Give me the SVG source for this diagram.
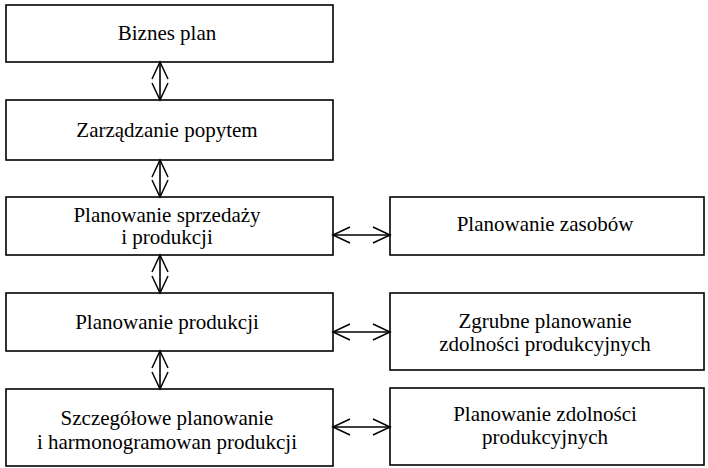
<svg xmlns="http://www.w3.org/2000/svg" width="708" height="468" viewBox="0 0 708 468">
<defs>
<marker id="ah" viewBox="0 0 20 20" refX="18" refY="10" markerWidth="20" markerHeight="20" markerUnits="userSpaceOnUse" orient="auto-start-reverse">
<path d="M1,2 L18,10 L1,18" fill="none" stroke="#000" stroke-width="1.5"/>
</marker>
<style>
.box{fill:#fff;stroke:#000;stroke-width:1.6}
.t{font-family:'Liberation Serif','Times New Roman',serif;font-size:21px;fill:#000;text-anchor:middle}
.c{stroke:#000;stroke-width:1.6;fill:none;marker-start:url(#ah);marker-end:url(#ah)}
</style>
</defs>
<rect width="708" height="468" fill="#fff"/>
<g id="biznes-plan"><rect class="box" x="6" y="5" width="327" height="57"/><text class="t" x="167" y="40">Biznes plan</text></g>
<g id="zarzadzanie-popytem"><rect class="box" x="6" y="100" width="327" height="60"/><text class="t" x="167" y="137">Zarządzanie popytem</text></g>
<g id="planowanie-sprzedazy"><rect class="box" x="6" y="197" width="327" height="58"/><text class="t" x="167" y="222">Planowanie sprzedaży</text><text class="t" x="167" y="244">i produkcji</text></g>
<g id="planowanie-produkcji"><rect class="box" x="6" y="293" width="327" height="58"/><text class="t" x="167" y="329">Planowanie produkcji</text></g>
<g id="szczegolowe"><rect class="box" x="6" y="389" width="327" height="77"/><text class="t" x="167" y="425">Szczegółowe planowanie</text><text class="t" x="167" y="449">i harmonogramowan produkcji</text></g>
<g id="planowanie-zasobow"><rect class="box" x="390" y="197" width="314" height="58"/><text class="t" x="545" y="231">Planowanie zasobów</text></g>
<g id="zgrubne"><rect class="box" x="390" y="293" width="314" height="77"/><text class="t" x="545" y="328">Zgrubne planowanie</text><text class="t" x="545" y="351">zdolności produkcyjnych</text></g>
<g id="planowanie-zdolnosci"><rect class="box" x="390" y="388" width="314" height="77"/><text class="t" x="545" y="421">Planowanie zdolności</text><text class="t" x="545" y="444">produkcyjnych</text></g>
<g id="connectors">
<line class="c" x1="160" y1="62" x2="160" y2="100"/>
<line class="c" x1="160" y1="160" x2="160" y2="197"/>
<line class="c" x1="160" y1="255" x2="160" y2="293"/>
<line class="c" x1="160" y1="351" x2="160" y2="389"/>
<line class="c" x1="333" y1="235" x2="390" y2="235"/>
<line class="c" x1="333" y1="332" x2="390" y2="332"/>
<line class="c" x1="333" y1="427" x2="390" y2="427"/>
</g>
</svg>
